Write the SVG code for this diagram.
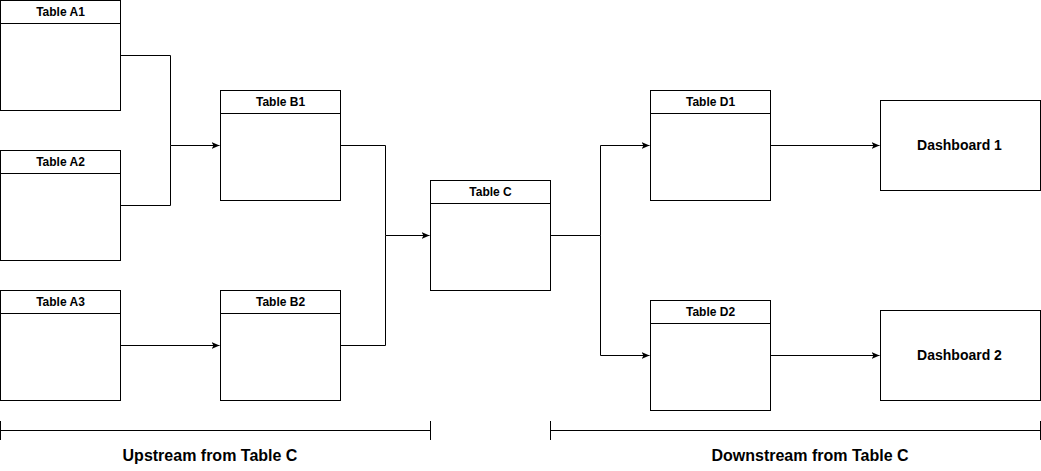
<svg xmlns="http://www.w3.org/2000/svg" width="1041" height="471" viewBox="0 0 1041 471">
<style>
.box{fill:#fff;stroke:#000;stroke-width:1}
.hdr{stroke:#000;stroke-width:1}
.t{font-family:"Liberation Sans",Arial,sans-serif;font-weight:bold;font-size:12px;fill:#000;text-anchor:middle}
.big{font-family:"Liberation Sans",Arial,sans-serif;font-weight:bold;font-size:14px;fill:#000;text-anchor:middle}
.lbl{font-family:"Liberation Sans",Arial,sans-serif;font-weight:bold;font-size:16px;fill:#000;text-anchor:middle}
.c{fill:none;stroke:#000;stroke-width:1}
.ca{fill:none;stroke:#000;stroke-width:1;marker-end:url(#arr)}
</style>
<defs>
<marker id="arr" markerWidth="10" markerHeight="8" refX="8" refY="4" orient="auto" markerUnits="userSpaceOnUse">
<path d="M0,0.5 L8,4 L0,7.5 L2,4 Z" fill="#000"/>
</marker>
</defs>
<rect width="1041" height="471" fill="#fff"/>
<g id="connectors">
<path class="ca" d="M120.5,55.5 H170.5 V145.5 H219.5"/>
<path class="c" d="M120.5,205.5 H170.5 V145.5"/>
<path class="ca" d="M120.5,345.5 H219.5"/>
<path class="ca" d="M340.5,145.5 H385.5 V235.5 H429.5"/>
<path class="c" d="M340.5,345.5 H385.5 V235.5"/>
<path class="ca" d="M550.5,235.5 H600.5 V145.5 H649.5"/>
<path class="ca" d="M600.5,235.5 V355.5 H649.5"/>
<path class="ca" d="M770.5,145.5 H879.5"/>
<path class="ca" d="M770.5,355.5 H879.5"/>
</g>
<g id="tableA1"><rect class="box" x="0.5" y="0.5" width="120" height="110"/><line class="hdr" x1="0.5" y1="23.5" x2="120.5" y2="23.5"/><text class="t" x="60.5" y="16">Table A1</text></g>
<g id="tableA2"><rect class="box" x="0.5" y="150.5" width="120" height="110"/><line class="hdr" x1="0.5" y1="173.5" x2="120.5" y2="173.5"/><text class="t" x="60.5" y="166">Table A2</text></g>
<g id="tableA3"><rect class="box" x="0.5" y="290.5" width="120" height="110"/><line class="hdr" x1="0.5" y1="313.5" x2="120.5" y2="313.5"/><text class="t" x="60.5" y="306">Table A3</text></g>
<g id="tableB1"><rect class="box" x="220.5" y="90.5" width="120" height="110"/><line class="hdr" x1="220.5" y1="113.5" x2="340.5" y2="113.5"/><text class="t" x="280.5" y="106">Table B1</text></g>
<g id="tableB2"><rect class="box" x="220.5" y="290.5" width="120" height="110"/><line class="hdr" x1="220.5" y1="313.5" x2="340.5" y2="313.5"/><text class="t" x="280.5" y="306">Table B2</text></g>
<g id="tableC"><rect class="box" x="430.5" y="180.5" width="120" height="110"/><line class="hdr" x1="430.5" y1="203.5" x2="550.5" y2="203.5"/><text class="t" x="490.5" y="196">Table C</text></g>
<g id="tableD1"><rect class="box" x="650.5" y="90.5" width="120" height="110"/><line class="hdr" x1="650.5" y1="113.5" x2="770.5" y2="113.5"/><text class="t" x="710.5" y="106">Table D1</text></g>
<g id="tableD2"><rect class="box" x="650.5" y="300.5" width="120" height="110"/><line class="hdr" x1="650.5" y1="323.5" x2="770.5" y2="323.5"/><text class="t" x="710.5" y="316">Table D2</text></g>
<g id="dashboard1"><rect class="box" x="880.5" y="100.5" width="160" height="90"/><text class="big" x="959.5" y="150">Dashboard 1</text></g>
<g id="dashboard2"><rect class="box" x="880.5" y="310.5" width="160" height="90"/><text class="big" x="959.5" y="360">Dashboard 2</text></g>
<g id="upstream">
<path class="c" d="M0.5,430.5 H430.5 M0.5,421 V440 M430.5,421 V440"/>
<text class="lbl" x="210" y="461">Upstream from Table C</text>
</g>
<g id="downstream">
<path class="c" d="M550.5,430.5 H1040.5 M550.5,421 V440 M1040.5,421 V440"/>
<text class="lbl" x="810" y="461">Downstream from Table C</text>
</g>
</svg>
